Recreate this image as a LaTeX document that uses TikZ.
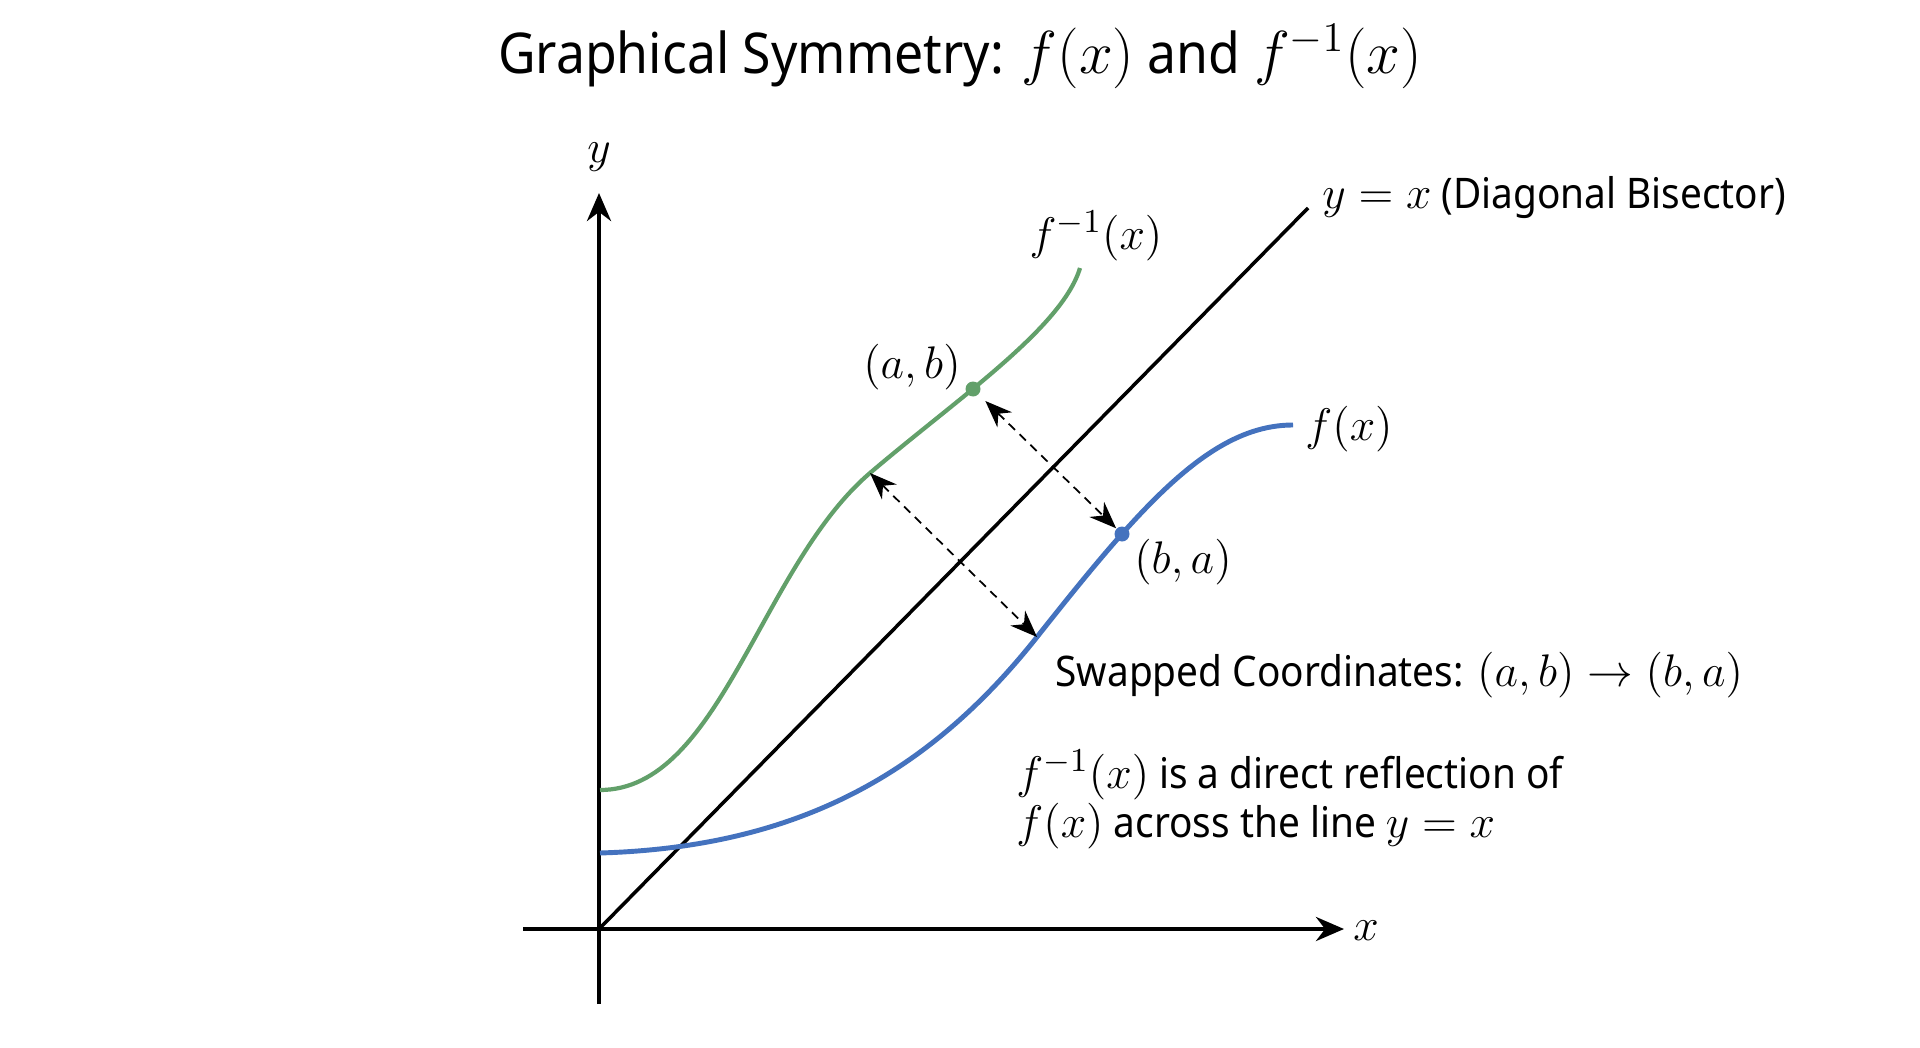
\RequirePackage{fix-cm}
\documentclass[tikz,border=0pt]{standalone}
\usepackage{fontspec}
\setmainfont{Noto Sans}[FakeStretch=0.92]
\DeclareMathSizes{12}{13}{9.5}{7}
\DeclareMathSizes{16}{17.28}{12}{10}
\usetikzlibrary{arrows.meta}
\definecolor{invgreen}{RGB}{98,160,106}
\definecolor{fblue}{RGB}{68,114,190}

\begin{document}
\begin{tikzpicture}[
        axis/.style={line width=1.2pt,-{Stealth[length=2.8mm,width=2.4mm]}},
        curve/.style={line width=1.3pt},
        swaparrow/.style={line width=0.5pt,dash pattern=on 2.5pt off 1.8pt,
            {Stealth[length=2.7mm,width=2.1mm]}-{Stealth[length=2.7mm,width=2.1mm]}},
        dot/.style={circle,inner sep=0pt,minimum size=1.5mm},
        every node/.style={font=\fontsize{12}{14}\selectfont}]
    \useasboundingbox (0,0) rectangle (19.20,10.47);
    \node[font=\fontsize{16}{19}\selectfont] (title) at (9.60,9.91)
        {Graphical Symmetry: $f(x)$ and $f^{-1}(x)$};
    % axes
    \coordinate (o) at (5.99,1.18);
    \coordinate (xl) at (5.23,1.18);
    \coordinate (xr) at (13.44,1.18);
    \coordinate (yb) at (5.99,0.43);
    \coordinate (yt) at (5.99,8.54);
    \draw[axis] (xl) -- (xr);
    \draw[axis] (yb) -- (yt);
    \node (xlabel) at (13.66,1.16) {$x$};
    \node (ylabel) at (5.99,8.90) {$y$};
    % y = x
    \coordinate (diagend) at (13.08,8.39);
    \draw[line width=1pt] (o) -- (diagend);
    \node[anchor=west] (diaglabel) at (13.10,8.49) {$y=x$ (Diagonal Bisector)};
    % f^{-1}(x)
    \coordinate (p) at (8.70,5.74);
    \draw[curve,line width=1.2pt,invgreen] (6.00,2.57) .. controls (7.2,2.57) and (7.6,4.8) .. (p)
        .. controls (9.58,6.49) and (10.62,7.19) .. (10.80,7.79);
    \node (invlabel) at (10.96,8.11) {$f^{-1}(x)$};
    % f(x)
    \coordinate (q) at (10.37,4.10);
    \draw[curve,line width=1.4pt,fblue] (6.00,1.94) .. controls (8.0,2.0) and (9.3,2.75) .. (q)
        .. controls (11.4,5.4) and (12.1,6.22) .. (12.93,6.22);
    \node (flabel) at (13.49,6.18) {$f(x)$};
    % swapped points
    \node[dot,fill=invgreen] (ab) at (9.73,6.58) {};
    \node[dot,fill=fblue] (ba) at (11.22,5.13) {};
    \node (ablabel) at (9.12,6.80) {$(a,b)$};
    \node (balabel) at (11.83,4.85) {$(b,a)$};
    \draw[swaparrow,shorten <=0.9mm] (ab) -- (ba);
    \draw[swaparrow] (p) -- (q);
    \node[anchor=west] (swaplabel) at (10.43,3.72) {Swapped Coordinates: $(a,b)\to(b,a)$};
    \node[anchor=west,align=left] (note) at (10.04,2.475)
        {$f^{-1}(x)$ is a direct reflection of\\$f(x)$ across the line $y=x$};
\end{tikzpicture}
\end{document}
